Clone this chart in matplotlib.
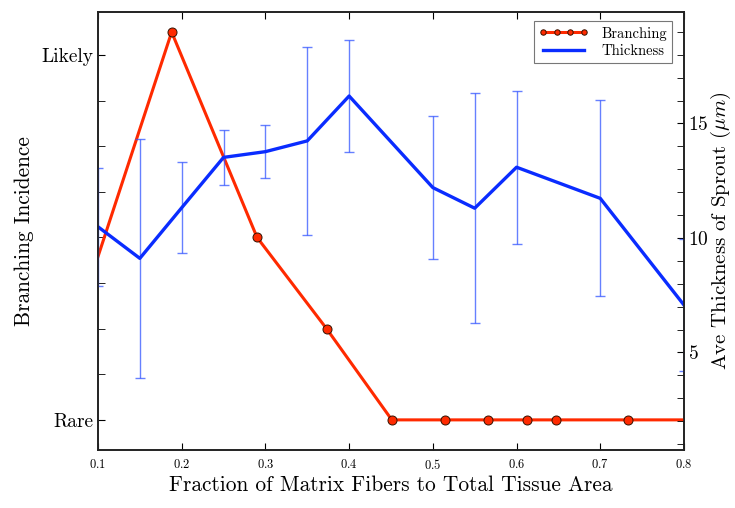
import matplotlib
matplotlib.use("Agg")
import matplotlib.pyplot as plt
from matplotlib.ticker import MultipleLocator, FixedLocator

plt.rcParams['font.family'] = ['cmr10', 'DejaVu Serif']
plt.rcParams['mathtext.fontset'] = 'cm'
plt.rcParams['axes.formatter.use_mathtext'] = True

# Branching incidence (ordinal scale: Rare = 1, Likely = 9)
branch_x = [0.07, 0.188, 0.29, 0.373, 0.451, 0.515, 0.566, 0.613, 0.647, 0.733, 0.85]
branch_y = [2.9, 9.5, 5.0, 3.0, 1.0, 1.0, 1.0, 1.0, 1.0, 1.0, 1.0]

# Average sprout thickness (micrometres) with error
thick_x = [0.1, 0.15, 0.2, 0.25, 0.3, 0.35, 0.4, 0.5, 0.55, 0.6, 0.7, 0.8]
thick_y = [10.49, 9.11, 11.32, 13.52, 13.77, 14.24, 16.2, 12.2, 11.3, 13.09, 11.73, 7.07]
thick_err = [2.57, 5.22, 1.98, 1.2, 1.15, 4.1, 2.44, 3.13, 5.02, 3.35, 4.28, 2.9]

level_ticks = [1, 9]
level_labels = ['Rare', 'Likely']

fig = plt.figure(figsize=(7.35, 5.08), dpi=100)
ax = fig.add_axes([0.1333, 0.1142, 0.7973, 0.8622])
ax2 = ax.twinx()

l1, = ax.plot(branch_x, branch_y, '-o', color='#ff2a00', lw=2.2,
              markersize=6.5, markerfacecolor='#ff2a00',
              markeredgecolor='#331100', markeredgewidth=0.7,
              label='Branching', zorder=3)

ax2.errorbar(thick_x, thick_y, yerr=thick_err, fmt='none',
             ecolor='#3355ff', elinewidth=1.0, capsize=3.5, capthick=1.0,
             alpha=0.75)
l2, = ax2.plot(thick_x, thick_y, '-', color='#0a2cff', lw=2.4, label='Thickness')

ax.set_xlim(0.1, 0.8)
ax.set_ylim(0.34, 9.94)
ax2.set_ylim(0.74, 19.87)

ax.xaxis.set_major_locator(MultipleLocator(0.1))
ax.tick_params(axis='x', which='both', direction='in', top=True, labelsize=9,
               length=5, pad=6)
ax.yaxis.set_major_locator(FixedLocator(level_ticks))
ax.set_yticklabels(level_labels)
ax.yaxis.set_minor_locator(MultipleLocator(1))
ax.tick_params(axis='y', which='both', direction='in', length=5, labelsize=14)

ax2.yaxis.set_major_locator(FixedLocator([5, 10, 15]))
ax2.yaxis.set_minor_locator(MultipleLocator(1))
ax2.tick_params(axis='y', which='both', direction='in', length=5, labelsize=14, pad=3)

for a in (ax, ax2):
    for s in a.spines.values():
        s.set_linewidth(1.2)
        s.set_color('#222222')

ax.set_xlabel('Fraction of Matrix Fibers to Total Tissue Area', fontsize=15.4, labelpad=2)
ax.set_ylabel('Branching Incidence', fontsize=15.4, labelpad=5)
ax2.set_ylabel(r'Ave Thickness of Sprout ($\mu m$)', fontsize=15, labelpad=0)

leg = ax2.legend([l1, l2], ['Branching', 'Thickness'], loc='upper right',
                 bbox_to_anchor=(0.985, 0.985), fontsize=10.5, numpoints=4,
                 markerscale=0.6, handlelength=3.4, fancybox=False,
                 borderpad=0.35, labelspacing=0.25, handletextpad=0.9,
                 borderaxespad=0.2)
leg.get_frame().set_edgecolor('#555555')
leg.get_frame().set_linewidth(0.8)

fig.savefig('out.png', dpi=100)
